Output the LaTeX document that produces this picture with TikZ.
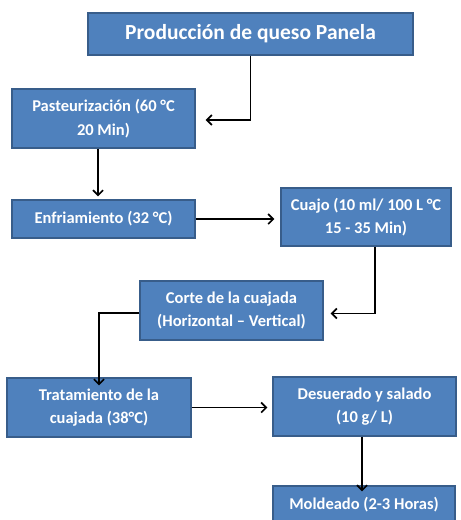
\documentclass[tikz,border=0pt]{standalone}
\usepackage{fontspec}
\setmainfont{Carlito}
\usetikzlibrary{arrows.meta,shadows}
\definecolor{boxfill}{HTML}{4F81BD}
\definecolor{boxline}{HTML}{385D8A}
\tikzset{
  procbox/.style={draw=boxline, line width=1.2pt, fill=boxfill, text=white,
    font=\fontsize{16.5}{23.5}\selectfont\bfseries, align=center, inner sep=0pt,
    drop shadow={shadow xshift=1.2pt, shadow yshift=-1.2pt, opacity=0.25}},
  arr/.style={line width=1.7pt, -{Straight Barb[length=5pt,width=10pt,line width=1.7pt]}}
}
\begin{document}
\begin{tikzpicture}[x=1pt,y=-1pt]
\useasboundingbox (0,0) rectangle (461,520);
\node[procbox, minimum width=325pt, minimum height=42pt, font=\fontsize{21.5}{24}\selectfont\bfseries] (title) at (250.5,34) {Producción de queso Panela};
\node[procbox, minimum width=183pt, minimum height=59pt] (pas) at (103.5,118.5) {Pasteurización (60 °C\\20 Min)};
\node[procbox, minimum width=183pt, minimum height=38pt] (enf) at (103.5,219) {Enfriamiento (32 °C)};
\node[procbox, minimum width=170pt, minimum height=58pt] (cua) at (366,217) {Cuajo (10 ml/ 100 L °C\\15 - 35 Min)};
\node[procbox, minimum width=183pt, minimum height=59pt] (cor) at (231.5,310.5) {Corte de la cuajada\\(Horizontal – Vertical)};
\node[procbox, minimum width=184pt, minimum height=59pt] (tra) at (99,407.5) {Tratamiento de la\\cuajada (38°C)};
\node[procbox, minimum width=183pt, minimum height=59pt] (des) at (364.5,406.5) {Desuerado y salado\\(10 g/ L)};
\node[procbox, minimum width=182pt, minimum height=38pt] (mol) at (364,505) {Moldeado (2-3 Horas)};

\draw[arr] (title.south) |- ([xshift=10pt,yshift=-1.5pt]pas.east);
\draw[arr] ([xshift=-5.5pt]pas.south) -- ([xshift=-5.5pt,yshift=3pt]enf.north);
\draw[arr] (enf.east) -- ([xshift=-6pt]enf.east -| cua.west);
\draw[arr] ([xshift=9pt]cua.south) |- ([xshift=7pt,yshift=-3pt]cor.east);
\draw[arr] ([yshift=-2.5pt]cor.west) -| ([yshift=-8pt]tra.north);
\draw[arr] (tra.east) -- ([xshift=-5pt]tra.east -| des.west);
\draw[arr] ([xshift=-2.5pt]des.south) -- ([xshift=-2.5pt,yshift=-6pt]des.south |- mol.north);
\end{tikzpicture}
\end{document}
